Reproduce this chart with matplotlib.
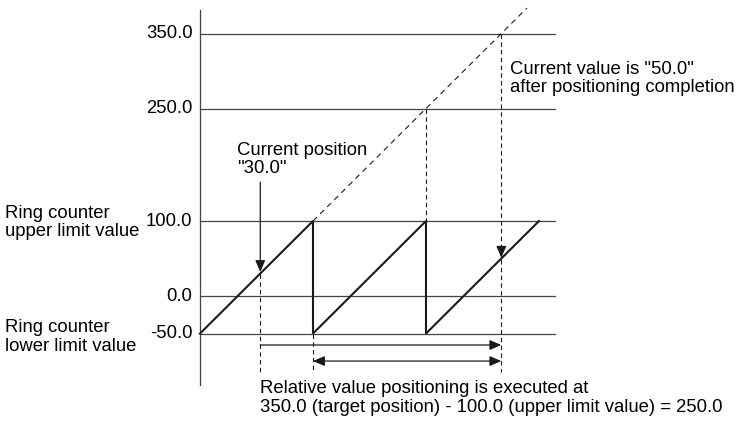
import matplotlib.pyplot as plt

plt.rcParams['font.family'] = ['Liberation Sans', 'DejaVu Sans']

# reference levels on the vertical axis
levels = [350.0, 250.0, 100.0, 0.0, -50.0]
level_labels = ["350.0", "250.0", "100.0", "0.0", "-50.0"]

# ring counter limits, positions
lower_limit = -50.0
upper_limit = 100.0
current_pos = 30.0
target_pos = 350.0
end_value = 50.0

# current value (ring counter) versus absolute position
saw_x = [-50, 100, 100, 250, 250, 400]
saw_y = [-50, 100, -50, 100, -50, 100]

# absolute position (no ring counter)
abs_x = [100, 384]
abs_y = [100, 384]

line_col = '#1a1a1a'
grid_col = '#444444'
fs = 13.3

fig = plt.figure(figsize=(7.38, 4.23), dpi=100)
ax = fig.add_axes([0, 0, 1, 1])
ax.set_xlim(-315.5, 664.2)
ax.set_ylim(-169.3, 394.7)
ax.axis('off')

# vertical axis
ax.plot([-50, -50], [381, -119], color=grid_col, lw=0.9)

# horizontal level lines and their labels
for lv, lab in zip(levels, level_labels):
    ax.plot([-50, 421], [lv, lv], color=grid_col, lw=0.9)
    ax.text(-60, lv, lab, ha='right', va='center', fontsize=fs)

# sawtooth and dashed continuation
ax.plot(saw_x, saw_y, color=line_col, lw=1.5, solid_joinstyle='miter')
ax.plot(abs_x, abs_y, color=line_col, lw=0.8, ls=(0, (5, 4)))

# dashed verticals
dash = dict(color=line_col, lw=0.8, ls=(0, (4, 3)))
ax.plot([current_pos, current_pos], [current_pos, -101], **dash)
ax.plot([upper_limit, upper_limit], [lower_limit, -101], **dash)
ax.plot([250, 250], [250, upper_limit], **dash)
ax.plot([target_pos, target_pos], [target_pos, -101], **dash)

# arrows
head = dict(arrowstyle='-|>,head_length=0.7,head_width=0.3', color=line_col, lw=0.9,
            shrinkA=0, shrinkB=0)
ax.annotate('', xy=(current_pos, current_pos + 2), xytext=(current_pos, 152), arrowprops=head)
ax.annotate('', xy=(target_pos, end_value + 1), xytext=(target_pos, end_value + 14), arrowprops=head)
ax.annotate('', xy=(target_pos, -65.3), xytext=(current_pos, -65.3), arrowprops=head)
ax.annotate('', xy=(target_pos, -86.7), xytext=(upper_limit, -86.7),
            arrowprops=dict(arrowstyle='<|-|>,head_length=0.7,head_width=0.3', color=line_col,
                            lw=0.9, shrinkA=0, shrinkB=0))

# texts
ax.text(-309, 98, "Ring counter\nupper limit value", ha='left', va='center', fontsize=fs,
        linespacing=1.15)
ax.text(-309, -55, "Ring counter\nlower limit value", ha='left', va='center', fontsize=fs,
        linespacing=1.15)
ax.text(-1, 182, "Current position\n\"30.0\"", ha='left', va='center', fontsize=fs,
        linespacing=1.15)
ax.text(361.5, 290, "Current value is \"50.0\"\nafter positioning completion", ha='left',
        va='center', fontsize=fs, linespacing=1.15)
ax.text(30, -136, "Relative value positioning is executed at\n"
        "350.0 (target position) - 100.0 (upper limit value) = 250.0",
        ha='left', va='center', fontsize=fs, linespacing=1.15)

fig.savefig('out.png', dpi=100)
